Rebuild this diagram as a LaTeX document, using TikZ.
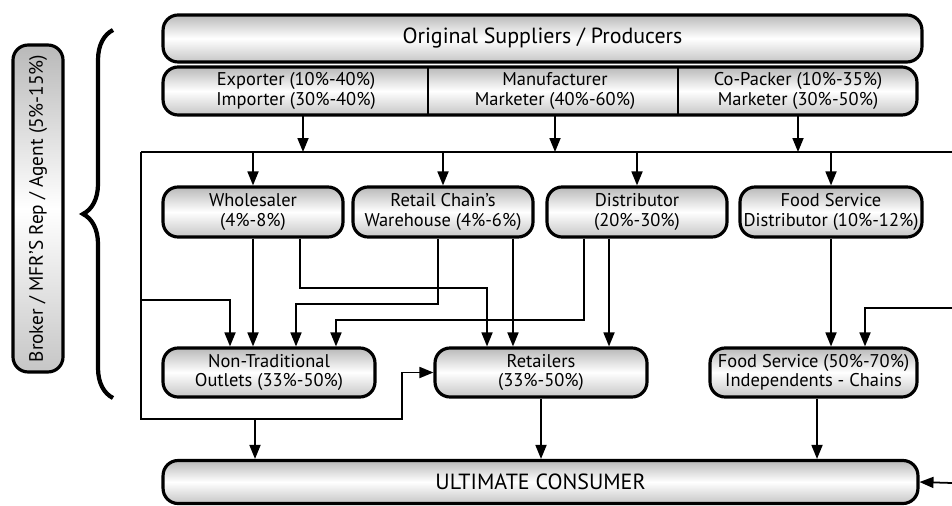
\documentclass[tikz,border=0pt]{standalone}
\usepackage{fontspec}
\setmainfont{PT Sans}
\usetikzlibrary{positioning,calc,arrows.meta,decorations.pathreplacing}
\tikzset{
    pipe/.style={draw=black,line width=1.8pt,rounded corners=0.3cm,top color=gray!55,bottom color=gray!45,middle color=white,align=center,inner sep=1pt,font=\fontsize{10.5}{11}\selectfont},
    bigpipe/.style={pipe,font=\fontsize{12.5}{13}\selectfont},
    sect/.style={align=center,inner sep=0pt,font=\fontsize{10.5}{11}\selectfont},
    arr/.style={line width=1pt,-{Triangle[length=0.28cm,width=0.22cm]}},
    ln/.style={line width=1pt}
}
\begin{document}
\begin{tikzpicture}[x=0.02cm,y=-0.02cm]
    \useasboundingbox[fill=white] (0,0) rectangle (952,506);
    \node[bigpipe,minimum width=15.18cm,minimum height=0.94cm] (orig) at (542.5,38.5) {Original Suppliers / Producers};
    \node[pipe,minimum width=15.08cm,minimum height=0.96cm] (srcbar) at (540,91) {};
    \draw[line width=1.2pt] (428,67) -- (428,115);
    \draw[line width=1.2pt] (678,67) -- (678,115);
    \node[sect,minimum width=5.3cm,minimum height=0.96cm] (exporter) at (296,91) {Exporter (10\%-40\%)\\Importer (30\%-40\%)};
    \node[sect,minimum width=5cm,minimum height=0.96cm] (manuf) at (555,91) {Manufacturer\\Marketer (40\%-60\%)};
    \node[sect,minimum width=4.78cm,minimum height=0.96cm] (copacker) at (798,91) {Co-Packer (10\%-35\%)\\Marketer (30\%-50\%)};

    \node[pipe,minimum width=3.6cm,minimum height=1cm] (whole) at (253,212) {Wholesaler\\(4\%-8\%)};
    \node[pipe,minimum width=3.6cm,minimum height=1cm] (chain) at (443,212) {Retail Chain's\\Warehouse (4\%-6\%)};
    \node[pipe,minimum width=3.6cm,minimum height=1cm] (dist) at (637,212) {Distributor\\(20\%-30\%)};
    \node[pipe,minimum width=3.64cm,minimum height=1cm] (fsdist) at (831,212) {Food Service\\Distributor (10\%-12\%)};

    \node[pipe,minimum width=4.24cm,minimum height=0.98cm] (nontrad) at (269,372.5) {Non-Traditional\\Outlets (33\%-50\%)};
    \node[pipe,minimum width=4.24cm,minimum height=0.98cm] (retail) at (541,372.5) {Retailers\\(33\%-50\%)};
    \node[pipe,minimum width=4.14cm,minimum height=0.98cm] (fsind) at (813.5,372.5) {Food Service (50\%-70\%)\\Independents - Chains};

    \node[bigpipe,minimum width=15.1cm,minimum height=0.86cm] (cons) at (540.5,482) {ULTIMATE CONSUMER};

    \node[pipe,rotate=90,minimum width=6.54cm,minimum height=1cm,font=\fontsize{11}{12}\selectfont] (broker) at (38,208.5) {Broker / MFR'S Rep / Agent (5\%-15\%)};
    \coordinate (brbot) at (113,398);
    \coordinate (brtop) at (113,30);
    \draw[decorate,decoration={brace,amplitude=0.6cm},line width=2.4pt] (brbot) -- (brtop);

    \coordinate (bus) at (0,152);
    \coordinate (busL) at (141,152);
    \coordinate (busR) at (952,152);
    \coordinate (lowbus) at (255,419);
    \coordinate (t1) at (0,288);
    \coordinate (t2) at (0,304);
    \coordinate (t3) at (0,320);
    \coordinate (rin1) at (952,308);
    \coordinate (rin2) at (952,483);

    \draw[arr] ([xshift=0.14cm]exporter.south) -- ([xshift=0.14cm]exporter.south |- bus);
    \draw[arr] (manuf.south) -- (manuf.south |- bus);
    \draw[arr] (copacker.south) -- (copacker.south |- bus);
    \draw[ln] (busL) -- (busR);
    \foreach \n in {whole,chain,dist,fsdist}
        \draw[arr] (\n.north |- bus) -- (\n.north);

    \draw[arr] (busL) |- (402,419) |- (retail.west);
    \draw[arr] (141,300) -| ([xshift=-0.78cm]nontrad.north);
    \draw[arr] (lowbus) -- (lowbus |- cons.north);

    \draw[arr] (whole.south) -- (whole.south |- nontrad.north);
    \draw[arr] ([xshift=0.94cm]whole.south) coordinate (s1) -- (s1 |- t1) -| ([xshift=-1.08cm]retail.north);
    \draw[arr] ([xshift=-0.1cm]chain.south) coordinate (s2) -- (s2 |- t2) -| ([xshift=0.54cm]nontrad.north);
    \draw[arr] ([xshift=1.4cm]chain.south) coordinate (s3) -- (s3 |- retail.north);
    \draw[arr] ([xshift=-1.06cm]dist.south) coordinate (s4) -- (s4 |- t3) -| ([xshift=1.34cm]nontrad.north);
    \draw[arr] ([xshift=-0.56cm]dist.south) coordinate (s5) -- (s5 |- retail.north);
    \draw[arr] (fsdist.south) -- (fsdist.south |- fsind.north);
    \draw[arr] (rin1) -| ([xshift=1.03cm]fsind.north);

    \draw[arr] (retail.south) -- (retail.south |- cons.north);
    \draw[arr] ([xshift=0.07cm]fsind.south) coordinate (s6) -- (s6 |- cons.north);
    \draw[arr] (rin2) -- (cons.east);
\end{tikzpicture}
\end{document}
